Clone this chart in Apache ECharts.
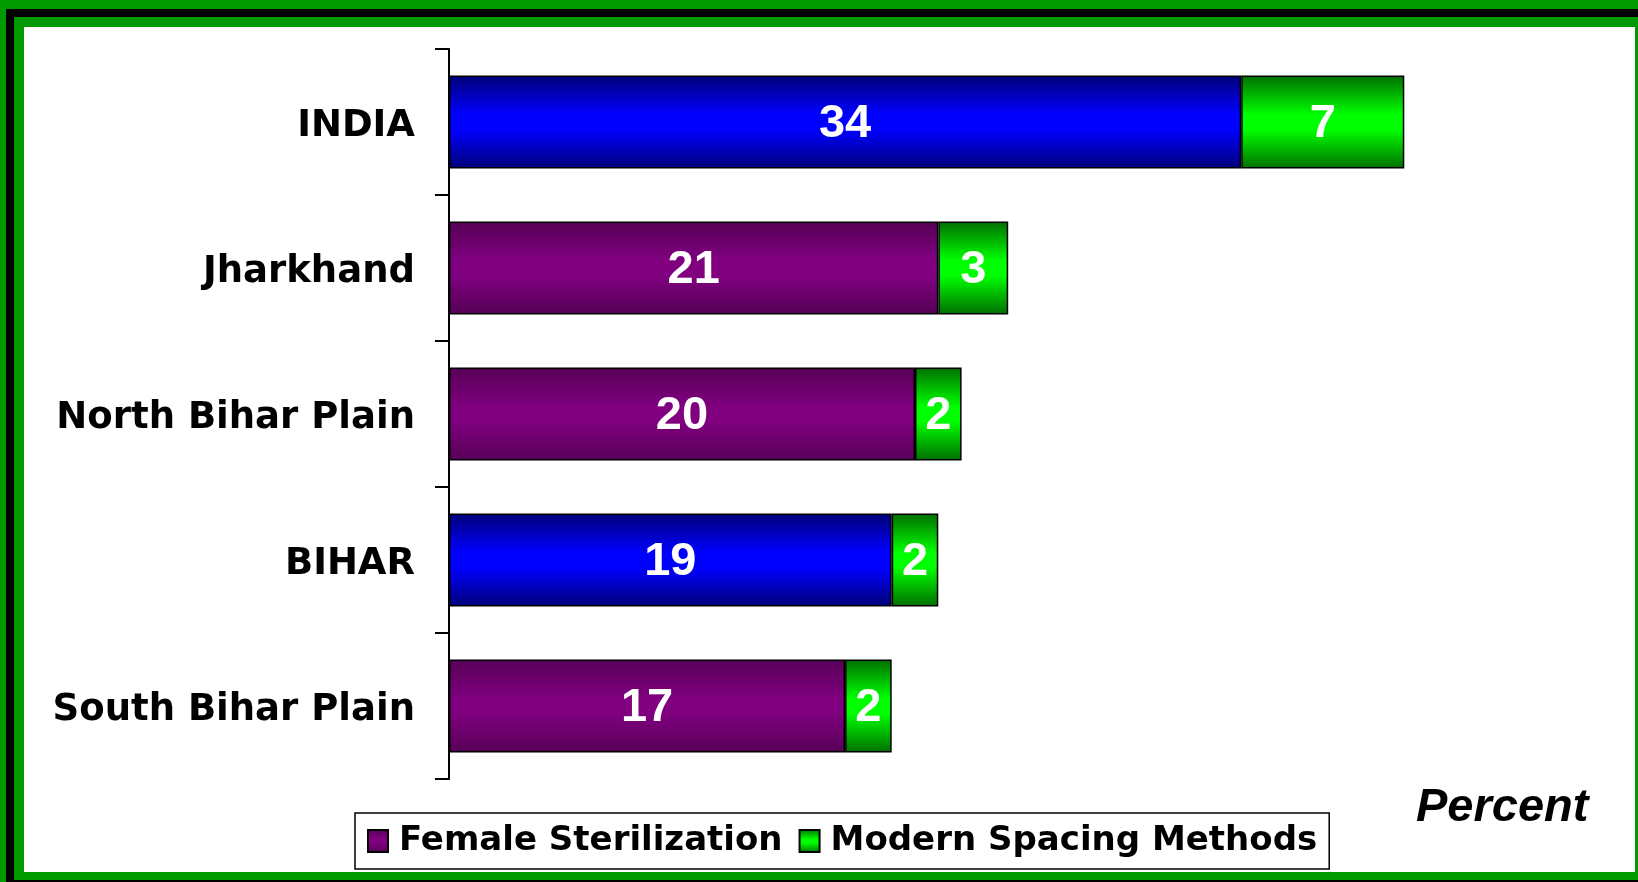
<!DOCTYPE html>
<html>
<head>
<meta charset="utf-8">
<script src="https://cdn.jsdelivr.net/npm/echarts@6/dist/echarts.min.js"></script>
<style>
  html, body { margin: 0; padding: 0; width: 1638px; height: 882px; overflow: hidden; background: #009900; }
  /* nested frame: green / black / green / white */
  #frameBlack { position: absolute; left: 6px; top: 9px; width: 1632px; height: 873px; background: #000; }
  #frameGreen { position: absolute; left: 14px; top: 17px; width: 1624px; height: 863px; background: #009900; }
  #frameWhite { position: absolute; left: 24px; top: 27px; width: 1611px; height: 845px; background: #fff; }
  #chart { position: absolute; left: 0; top: 0; width: 1638px; height: 882px; }
</style>
</head>
<body>
<div id="frameBlack"></div>
<div id="frameGreen"></div>
<div id="frameWhite"></div>
<div id="chart"></div>
<script>
const regions = ['INDIA', 'Jharkhand', 'North Bihar Plain', 'BIHAR', 'South Bihar Plain'];
const femaleSterilization = [34, 21, 20, 19, 17];
const modernSpacing = [7, 3, 2, 2, 2];
const highlighted = ['INDIA', 'BIHAR'];   // drawn in blue

function grad(dark, bright) {
  return new echarts.graphic.LinearGradient(0, 0, 0, 1, [
    { offset: 0, color: dark },
    { offset: 0.42, color: bright },
    { offset: 0.58, color: bright },
    { offset: 1, color: dark },
  ]);
}

const purple = grad('#560056', '#800080');
const blue = grad('#000078', '#0000ff');
const green = grad('#006e00', '#00ff00');

const chart = echarts.init(document.getElementById('chart'), null, { renderer: 'canvas' });

const valueLabel = {
  show: true,
  position: 'inside',
  offset: [0, 2],
  color: '#fff',
  fontFamily: 'Liberation Sans',
  fontWeight: 'bold',
  fontSize: 47,
};

chart.setOption({
  backgroundColor: 'transparent',
  animation: false,
  grid: { left: 449, top: 49, width: 1165, height: 730 },
  xAxis: { type: 'value', min: 0, max: 50, show: false },
  yAxis: {
    type: 'category',
    data: regions,
    inverse: true,
    axisLine: { show: true, lineStyle: { color: '#000', width: 2 } },
    axisTick: { show: true, inside: false, length: 14, lineStyle: { color: '#000', width: 2 } },
    axisLabel: {
      margin: 34,
      formatter: (v) => `{c|${v}}`,
      rich: {
        c: {
          color: '#000',
          fontFamily: 'DejaVu Sans',
          fontWeight: 'bold',
          fontSize: 37,
          padding: [9, 0, 0, 0],
        },
      },
    },
    splitLine: { show: false },
  },
  legend: {
    left: 355,
    top: 813,
    orient: 'horizontal',
    backgroundColor: '#fff',
    borderColor: '#000',
    borderWidth: 1.5,
    padding: [11, 12, 11, 12],
    itemWidth: 20,
    itemHeight: 22,
    itemGap: 16,
    icon: 'rect',
    textStyle: {
      color: '#000',
      fontFamily: 'DejaVu Sans',
      fontWeight: 'bold',
      fontSize: 34,
      padding: [0, 0, 0, 6],
    },
    data: ['Female Sterilization', 'Modern Spacing Methods'],
  },
  graphic: [{
    type: 'text',
    left: 1416,
    top: 785,
    style: {
      text: 'Percent',
      fill: '#000',
      font: 'italic bold 47px "Liberation Sans"',
    },
  }],
  series: [
    {
      name: 'Female Sterilization',
      type: 'bar',
      stack: 'total',
      barWidth: 93,
      itemStyle: { color: purple, borderColor: '#000', borderWidth: 1.5 },
      label: valueLabel,
      data: femaleSterilization.map((v, i) => ({
        value: v,
        itemStyle: highlighted.includes(regions[i]) ? { color: blue } : undefined,
      })),
    },
    {
      name: 'Modern Spacing Methods',
      type: 'bar',
      stack: 'total',
      barWidth: 93,
      itemStyle: { color: green, borderColor: '#000', borderWidth: 1.5 },
      label: valueLabel,
      data: modernSpacing,
    },
  ],
});
</script>
</body>
</html>
